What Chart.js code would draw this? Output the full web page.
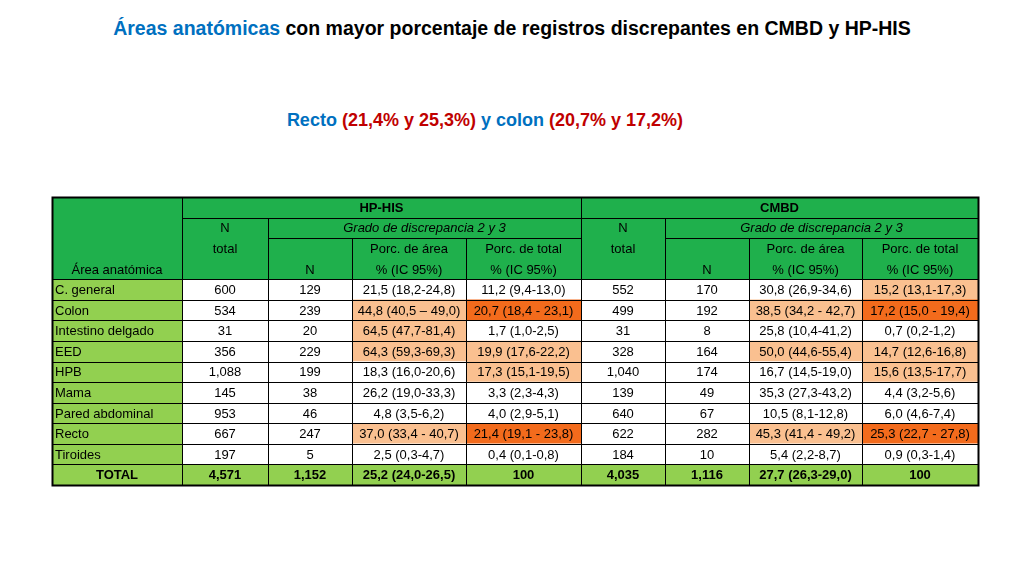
<!DOCTYPE html>
<html><head><meta charset="utf-8">
<script src="https://cdn.jsdelivr.net/npm/chart.js@4"></script>
<style>
body{margin:0;width:1024px;height:576px;background:#fff;position:relative;overflow:hidden;font-family:'Liberation Sans',Arial,sans-serif}
#t1{position:absolute;top:17px;left:0;width:1024px;text-align:center;font-weight:bold;font-size:19.5px;color:#000}
#t2{position:absolute;top:110px;left:0;width:970px;text-align:center;font-weight:bold;font-size:18px}
.b{color:#0070C0}.r{color:#C00000}
#wrap{position:absolute;left:0;top:0;width:1024px;height:576px}
</style></head><body>
<div id="t1"><span class="b">Áreas anatómicas</span> con mayor porcentaje de registros discrepantes en CMBD y HP-HIS</div>
<div id="t2"><span class="b">Recto</span> <span class="r">(21,4% y 25,3%)</span> <span class="b">y colon</span> <span class="r">(20,7% y 17,2%)</span></div>
<div id="wrap"><canvas id="c" width="1024" height="576"></canvas></div>
<script>
const areas=["C. general","Colon","Intestino delgado","EED","HPB","Mama","Pared abdominal","Recto","Tiroides","TOTAL"];
const hpN=["600","534","31","356","1,088","145","953","667","197","4,571"];
const hpNd=["129","239","20","229","199","38","46","247","5","1,152"];
const hpArea=["21,5 (18,2-24,8)","44,8 (40,5 – 49,0)","64,5 (47,7-81,4)","64,3 (59,3-69,3)","18,3 (16,0-20,6)","26,2 (19,0-33,3)","4,8 (3,5-6,2)","37,0 (33,4 - 40,7)","2,5 (0,3-4,7)","25,2 (24,0-26,5)"];
const hpTotal=["11,2 (9,4-13,0)","20,7 (18,4 - 23,1)","1,7 (1,0-2,5)","19,9 (17,6-22,2)","17,3 (15,1-19,5)","3,3 (2,3-4,3)","4,0 (2,9-5,1)","21,4 (19,1 - 23,8)","0,4 (0,1-0,8)","100"];
const cmN=["552","499","31","328","1,040","139","640","622","184","4,035"];
const cmNd=["170","192","8","164","174","49","67","282","10","1,116"];
const cmArea=["30,8 (26,9-34,6)","38,5 (34,2 - 42,7)","25,8 (10,4-41,2)","50,0 (44,6-55,4)","16,7 (14,5-19,0)","35,3 (27,3-43,2)","10,5 (8,1-12,8)","45,3 (41,4 - 49,2)","5,4 (2,2-8,7)","27,7 (26,3-29,0)"];
const cmTotal=["15,2 (13,1-17,3)","17,2 (15,0 - 19,4)","0,7 (0,2-1,2)","14,7 (12,6-16,8)","15,6 (13,5-17,7)","4,4 (3,2-5,6)","6,0 (4,6-7,4)","25,3 (22,7 - 27,8)","0,9 (0,3-1,4)","100"];
// highlight level: 0 none, 1 light, 2 strong
const hlHpArea=[0,1,1,1,0,0,0,1,0,0];
const hlHpTotal=[0,2,0,1,1,0,0,2,0,0];
const hlCmArea=[0,1,0,1,0,0,0,1,0,0];
const hlCmTotal=[1,2,0,1,1,0,0,2,0,0];
const colWidths=[130,86,84,114,115,84,84,113,116];

const HDR=4, NR=HDR+areas.length;
const rows=[...Array(NR).keys()].map(String);
const cols=[areas,hpN,hpNd,hpArea,hpTotal,cmN,cmNd,cmArea,cmTotal];
const hls=[null,null,null,hlHpArea,hlHpTotal,null,null,hlCmArea,hlCmTotal];
const GREEN='#1FB04C', LG='#92D050', PEACH='#FAC090', ORANGE='#F36B1C';
function cellColor(r,c){
  if(r<HDR) return GREEN;
  const i=r-HDR;
  if(i===areas.length-1) return LG;
  if(c===0) return LG;
  const h=hls[c]; if(h){ if(h[i]===1) return PEACH; if(h[i]===2) return ORANGE; }
  return '#FFFFFF';
}
const datasets=colWidths.map((w,c)=>({data:rows.map(()=>w),backgroundColor:ctx=>cellColor(ctx.dataIndex,c),borderWidth:0,barPercentage:1,categoryPercentage:1}));
const merges=[
 {r0:0,r1:3,c0:0,c1:0,t:[[3,'Área anatómica','']]},
 {r0:0,r1:0,c0:1,c1:4,t:[[0,'HP-HIS','bold ']]},
 {r0:0,r1:0,c0:5,c1:8,t:[[0,'CMBD','bold ']]},
 {r0:1,r1:3,c0:1,c1:1,t:[[1,'N',''],[2,'total','']]},
 {r0:1,r1:3,c0:5,c1:5,t:[[1,'N',''],[2,'total','']]},
 {r0:1,r1:1,c0:2,c1:4,t:[[1,'Grado de discrepancia 2 y 3','italic ']]},
 {r0:1,r1:1,c0:6,c1:8,t:[[1,'Grado de discrepancia 2 y 3','italic ']]},
 {r0:2,r1:3,c0:2,c1:2,t:[[3,'N','']]},
 {r0:2,r1:3,c0:6,c1:6,t:[[3,'N','']]},
 {r0:2,r1:3,c0:3,c1:3,t:[[2,'Porc. de área',''],[3,'% (IC 95%)','']]},
 {r0:2,r1:3,c0:7,c1:7,t:[[2,'Porc. de área',''],[3,'% (IC 95%)','']]},
 {r0:2,r1:3,c0:4,c1:4,t:[[2,'Porc. de total',''],[3,'% (IC 95%)','']]},
 {r0:2,r1:3,c0:8,c1:8,t:[[2,'Porc. de total',''],[3,'% (IC 95%)','']]},
];
const FONT="'Liberation Sans Narrow','Liberation Sans',Arial,sans-serif";
const tablePlugin={id:'tbl',afterDatasetsDraw(ch){
  const ctx=ch.ctx,xs=ch.scales.x,ys=ch.scales.y;
  const cum=[0];colWidths.forEach(w=>cum.push(cum[cum.length-1]+w));
  const X=c=>xs.getPixelForValue(cum[c]);
  const step=ys.getPixelForValue(1)-ys.getPixelForValue(0);
  const Yt=r=>ys.getPixelForValue(r)-step/2, Yc=r=>ys.getPixelForValue(r);
  ctx.save();ctx.strokeStyle='#000';ctx.lineWidth=1;
  for(let r=0;r<NR;r++)for(let c=0;c<9;c++){ctx.strokeRect(Math.round(X(c))+.5,Math.round(Yt(r))+.5,Math.round(X(c+1))-Math.round(X(c)),Math.round(Yt(r+1))-Math.round(Yt(r)));}
  ctx.textBaseline='middle';
  for(const m of merges){
    const x0=Math.round(X(m.c0)),x1=Math.round(X(m.c1+1)),y0=Math.round(Yt(m.r0)),y1=Math.round(Yt(m.r1+1));
    ctx.fillStyle=GREEN;ctx.fillRect(x0+1,y0+1,x1-x0-1,y1-y0-1);
    ctx.strokeRect(x0+.5,y0+.5,x1-x0,y1-y0);
    ctx.fillStyle='#000';ctx.textAlign='center';
    for(const [r,s,f] of m.t){ctx.font=f+'13px '+FONT;ctx.fillText(s,(x0+x1)/2,Yc(r)+1);}
  }
  for(let i=0;i<areas.length;i++){
    const r=HDR+i,tot=i===areas.length-1;
    for(let c=0;c<9;c++){
      ctx.font=(tot?'bold ':'')+'13px '+FONT;
      if(c===0&&!tot){ctx.textAlign='left';ctx.fillText(cols[c][i],X(0)+3,Yc(r)+1);}
      else{ctx.textAlign='center';ctx.fillText(cols[c][i],(X(c)+X(c+1))/2,Yc(r)+1);}
    }
  }
  ctx.lineWidth=2;ctx.strokeRect(Math.round(X(0))+.5,Math.round(Yt(0))+.5,Math.round(X(9))-Math.round(X(0)),Math.round(Yt(NR))-Math.round(Yt(0)));
  ctx.restore();
}};
new Chart(document.getElementById('c'),{type:'bar',data:{labels:rows,datasets},
 options:{indexAxis:'y',responsive:false,animation:false,
  layout:{padding:{left:52,right:46,top:197,bottom:91}},
  plugins:{legend:{display:false},tooltip:{enabled:false}},
  scales:{x:{stacked:true,display:false,min:0,max:colWidths.reduce((a,b)=>a+b,0)},
          y:{stacked:true,display:false}}},
 plugins:[tablePlugin]});
</script></body></html>
